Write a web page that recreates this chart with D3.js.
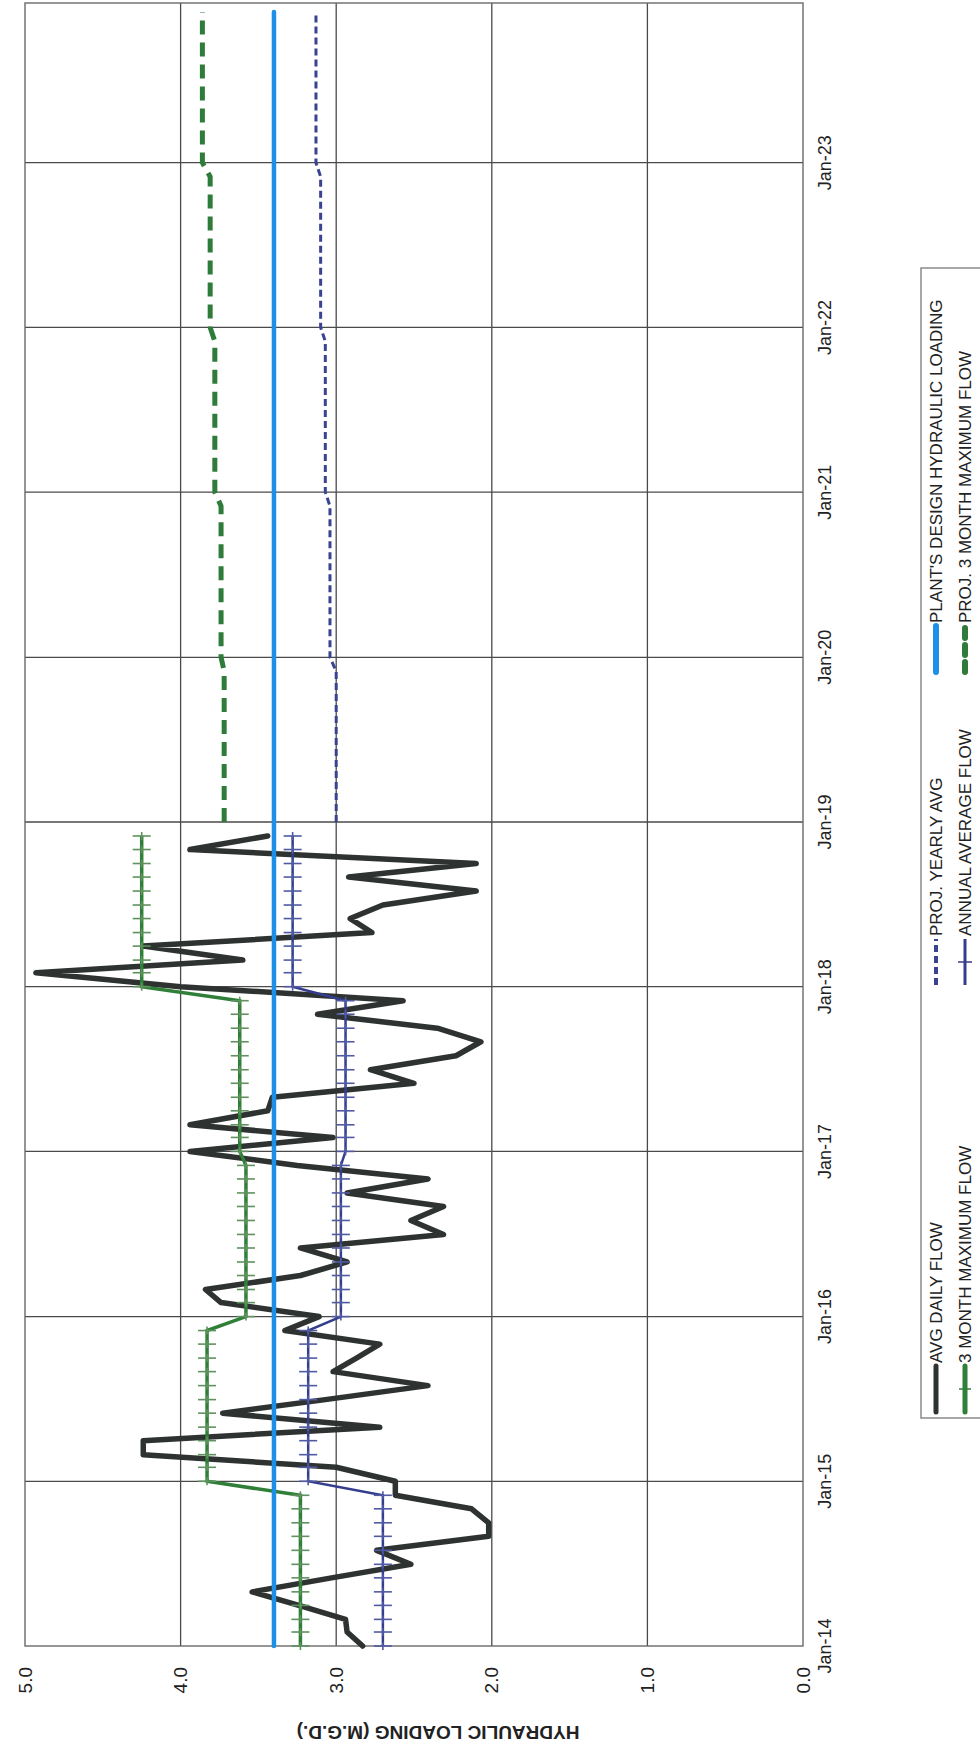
<!DOCTYPE html>
<html>
<head>
<meta charset="utf-8">
<title>Hydraulic Loading</title>
<script src="https://d3js.org/d3.v7.min.js"></script>
<style>
  html, body { margin: 0; padding: 0; background: #fff; overflow: hidden; }
  svg { display: block; font-family: "Liberation Sans", Arial, sans-serif; }
</style>
</head>
<body>
<svg id="chart" width="980" height="1754"></svg>
<script>
// monthly average daily flow, Jan-14 .. Dec-18 (M.G.D.)
const avgDailyFlow = [
  2.83, 2.93, 2.94, 3.24, 3.54, 3.03, 2.52, 2.74, 2.02, 2.02, 2.13, 2.62,
  2.62, 3.00, 4.24, 4.24, 2.72, 3.73, 3.07, 2.41, 3.02, 2.87, 2.72, 3.33,
  3.11, 3.74, 3.84, 3.23, 2.93, 3.23, 2.31, 2.52, 2.31, 2.93, 2.41, 3.25,
  3.94, 3.02, 3.94, 3.44, 3.41, 2.50, 2.78, 2.23, 2.07, 2.35, 3.12, 2.57,
  4.00, 4.93, 3.60, 4.24, 2.77, 2.91, 2.70, 2.10, 2.92, 2.10, 3.94, 3.44
];
const histYears = [2014, 2015, 2016, 2017, 2018];
const threeMonthMax = [3.23, 3.83, 3.58, 3.62, 4.25];
const annualAverage = [2.70, 3.18, 2.97, 2.94, 3.28];
const projYears = [2019, 2020, 2021, 2022, 2023];
const projThreeMonthMax = [3.72, 3.74, 3.78, 3.81, 3.86];
const projYearlyAvg = [3.00, 3.04, 3.07, 3.10, 3.13];
const designLoading = 3.40;
const designSpan = [new Date(2014, 0, 1), new Date(2023, 11, 1)];
const valueTicks = [0, 1, 2, 3, 4, 5];
const yearTicks = [2014, 2015, 2016, 2017, 2018, 2019, 2020, 2021, 2022, 2023];
const legendItems = [
  { name: "AVG DAILY FLOW", key: "avg" },
  { name: "3 MONTH MAXIMUM FLOW", key: "max3" },
  { name: "PROJ. YEARLY AVG", key: "projAvg" },
  { name: "ANNUAL AVERAGE FLOW", key: "annual" },
  { name: "PLANT'S DESIGN HYDRAULIC LOADING", key: "design" },
  { name: "PROJ. 3 MONTH MAXIMUM FLOW", key: "projMax" }
];

const colors = {
  avg: "#2e3331", max3: "#2f7f38", max3Tick: "#5f925f",
  annual: "#343d8e", annualTick: "#505aa3",
  design: "#1e8fe6", projMax: "#2f7b3a", projAvg: "#39438f",
  grid: "#4a4a4a"
};

// the page is a scan turned on its side: draw the chart normally, then rotate it
const left = 25, bottom = 1646;
const plotLen = 1643, plotDepth = 778;

const svg = d3.select("#chart");
const g = svg.append("g").attr("transform", `translate(${left},${bottom}) rotate(-90)`);

const x = d3.scaleTime()
  .domain([new Date(2014, 0, 1), new Date(2024, 0, 1)])
  .range([0, 1648]);
const y = d3.scaleLinear().domain([0, 5]).range([plotDepth, 0]);

// yearly values repeated for every month of that year
function monthly(yearsArr, vals) {
  const out = [];
  yearsArr.forEach((yr, i) => {
    for (let m = 0; m < 12; m++) out.push({ date: new Date(yr, m, 1), v: vals[i] });
  });
  return out;
}
const dailyPts = avgDailyFlow.map((v, i) => ({ date: new Date(2014, i, 1), v }));
const maxPts = monthly(histYears, threeMonthMax);
const annPts = monthly(histYears, annualAverage);
const projMaxPts = monthly(projYears, projThreeMonthMax);
const projAvgPts = monthly(projYears, projYearlyAvg);
const designPts = designSpan.map(d => ({ date: d, v: designLoading }));

const line = d3.line().x(d => x(d.date)).y(d => y(d.v));

// grid
g.append("g").selectAll("line.vg")
  .data(yearTicks.slice(1))
  .join("line")
  .attr("x1", d => x(new Date(d, 0, 1))).attr("x2", d => x(new Date(d, 0, 1)))
  .attr("y1", 0).attr("y2", plotDepth)
  .attr("stroke", colors.grid).attr("stroke-width", 1.3);
g.append("g").selectAll("line.hg")
  .data(valueTicks.slice(1, -1))
  .join("line")
  .attr("x1", 0).attr("x2", plotLen)
  .attr("y1", d => y(d)).attr("y2", d => y(d))
  .attr("stroke", colors.grid).attr("stroke-width", 1.3);
g.append("rect")
  .attr("x", 0).attr("y", 0).attr("width", plotLen).attr("height", plotDepth)
  .attr("fill", "none").attr("stroke", "#6a6a6a").attr("stroke-width", 1.4);

// series
g.append("path").datum(dailyPts)
  .attr("d", line).attr("fill", "none")
  .attr("stroke", colors.avg).attr("stroke-width", 5.5)
  .attr("stroke-linejoin", "round").attr("stroke-linecap", "round");

function plusMarkers(pts, color, len) {
  const mk = g.append("g").attr("stroke", color).attr("stroke-width", 1.6);
  mk.selectAll("line.a").data(pts).join("line")
    .attr("x1", d => x(d.date)).attr("x2", d => x(d.date))
    .attr("y1", d => y(d.v) - len).attr("y2", d => y(d.v) + len);
  mk.selectAll("line.b").data(pts).join("line")
    .attr("x1", d => x(d.date) - 4).attr("x2", d => x(d.date) + 4)
    .attr("y1", d => y(d.v)).attr("y2", d => y(d.v));
}

g.append("path").datum(maxPts)
  .attr("d", line).attr("fill", "none")
  .attr("stroke", colors.max3).attr("stroke-width", 3.5);
plusMarkers(maxPts, colors.max3Tick, 9);

g.append("path").datum(annPts)
  .attr("d", line).attr("fill", "none")
  .attr("stroke", colors.annual).attr("stroke-width", 2.5);
plusMarkers(annPts, colors.annualTick, 9);

g.append("path").datum(projMaxPts)
  .attr("d", line).attr("fill", "none")
  .attr("stroke", colors.projMax).attr("stroke-width", 5)
  .attr("stroke-dasharray", "14 8");

g.append("path").datum(projAvgPts)
  .attr("d", line).attr("fill", "none")
  .attr("stroke", colors.projAvg).attr("stroke-width", 3)
  .attr("stroke-dasharray", "7 4");

g.append("path").datum(designPts)
  .attr("d", line).attr("fill", "none")
  .attr("stroke", colors.design).attr("stroke-width", 4.5)
  .attr("stroke-linecap", "round");

// axis labels
g.append("g").selectAll("text")
  .data(yearTicks)
  .join("text")
  .attr("x", d => x(new Date(d, 0, 1)))
  .attr("y", plotDepth + 28)
  .attr("text-anchor", "middle")
  .attr("font-size", 18).attr("fill", "#222")
  .text(d => d3.timeFormat("%b-%y")(new Date(d, 0, 1)));

g.append("g").selectAll("text")
  .data(valueTicks)
  .join("text")
  .attr("x", -21).attr("y", d => y(d))
  .attr("dy", "0.35em")
  .attr("text-anchor", "end")
  .attr("font-size", 19).attr("fill", "#222")
  .text(d => d3.format(".1f")(d));

g.append("text")
  .attr("transform", `translate(-87, 413) rotate(-90)`)
  .attr("dy", "0.35em")
  .attr("text-anchor", "middle")
  .attr("font-size", 19).attr("font-weight", "bold").attr("fill", "#222")
  .text("HYDRAULIC LOADING (M.G.D.)");

// legend, below the plot in chart orientation
const lg = g.append("g");
lg.append("rect")
  .attr("x", 228).attr("y", 896).attr("width", 1150).attr("height", 80)
  .attr("fill", "none").attr("stroke", "#8a8a8a").attr("stroke-width", 1.5);

const colStart = [234, 661, 974];
const rowY = [911, 940];
const symLen = 46;
legendItems.forEach((it, i) => {
  const cx = colStart[Math.floor(i / 2)];
  const cy = rowY[i % 2];
  const s = lg.append("g");
  const seg = s.append("line")
    .attr("x1", cx).attr("x2", cx + symLen).attr("y1", cy).attr("y2", cy);
  if (it.key === "avg") seg.attr("stroke", colors.avg).attr("stroke-width", 5).attr("stroke-linecap", "round");
  if (it.key === "max3") {
    seg.attr("stroke", colors.max3).attr("stroke-width", 5).attr("stroke-linecap", "round");
    s.append("line").attr("x1", cx + symLen / 2).attr("x2", cx + symLen / 2)
      .attr("y1", cy - 6).attr("y2", cy + 6).attr("stroke", colors.max3).attr("stroke-width", 1.5);
  }
  if (it.key === "annual") {
    seg.attr("stroke", colors.annual).attr("stroke-width", 3);
    s.append("line").attr("x1", cx + symLen / 2).attr("x2", cx + symLen / 2)
      .attr("y1", cy - 7).attr("y2", cy + 7).attr("stroke", colors.annual).attr("stroke-width", 1.5);
  }
  if (it.key === "projAvg") seg.attr("stroke", colors.projAvg).attr("stroke-width", 4).attr("stroke-dasharray", "7 4");
  if (it.key === "design") seg.attr("stroke", colors.design).attr("stroke-width", 6).attr("stroke-linecap", "round");
  if (it.key === "projMax") seg.attr("stroke", colors.projMax).attr("stroke-width", 6).attr("stroke-dasharray", "10 7").attr("stroke-linecap", "round");
  lg.append("text")
    .attr("x", cx + symLen + 3).attr("y", cy)
    .attr("dy", "0.35em")
    .attr("font-size", 17).attr("fill", "#222")
    .text(it.name);
});
</script>
</body>
</html>
